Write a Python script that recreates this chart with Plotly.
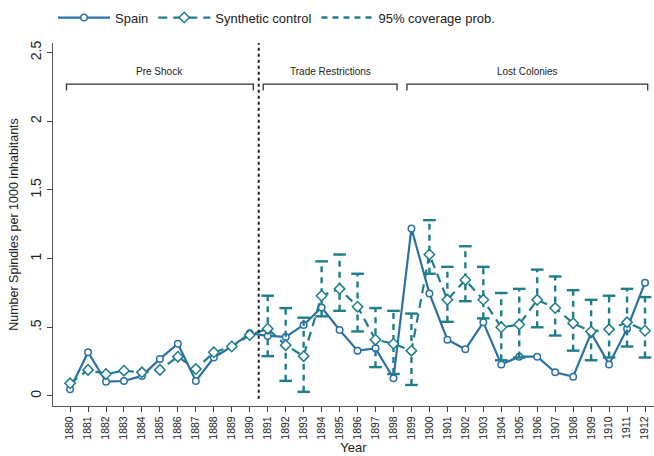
import plotly.graph_objects as go

years = list(range(1880, 1913))
spain = [0.049, 0.318, 0.104, 0.109, 0.146, 0.27, 0.38, 0.109, 0.28, 0.36, 0.456,
         0.437, 0.43, 0.517, 0.645, 0.48, 0.33, 0.347, 0.129, 1.22,
         0.747, 0.41, 0.34, 0.536, 0.23, 0.286, 0.286, 0.172, 0.14, 0.46, 0.23, 0.49, 0.825]
synth = [0.092, 0.19, 0.16, 0.184, 0.172, 0.19, 0.286, 0.196, 0.318, 0.36, 0.444,
         0.49, 0.37, 0.29, 0.73, 0.78, 0.65, 0.41, 0.38, 0.33,
         1.03, 0.70, 0.845, 0.70, 0.50, 0.52, 0.70, 0.64, 0.53, 0.47, 0.485, 0.536, 0.475]
ci_years = list(range(1891, 1913))
ci_hi = [0.73, 0.64, 0.57, 0.98, 1.03, 0.89, 0.64, 0.62, 0.60,
         1.28, 0.94, 1.09, 0.94, 0.75, 0.78, 0.92, 0.87, 0.77, 0.70, 0.73, 0.78, 0.72]
ci_lo = [0.29, 0.11, 0.03, 0.58, 0.62, 0.47, 0.21, 0.16, 0.08,
         0.89, 0.54, 0.69, 0.565, 0.26, 0.28, 0.50, 0.44, 0.33, 0.26, 0.28, 0.36, 0.28]
periods = [("Pre Shock", 1879.8, 1890.2), ("Trade Restrictions", 1890.75, 1898.2),
           ("Lost Colonies", 1898.75, 1912.15)]
shock_year = 1890.5
y_ticks = [0, 0.5, 1, 1.5, 2, 2.5]
y_tick_text = ["0", ".5", "1", "1.5", "2", "2.5"]

C_SPAIN = "#2b70a7"
C_SYN = "#1f7d8b"
FONT = "Liberation Sans, Arial, sans-serif"

fig = go.Figure()

cx, cy = [], []
for x, lo, hi in zip(ci_years, ci_lo, ci_hi):
    cx += [x, x, None]
    cy += [lo, hi, None]

fig.add_trace(go.Scatter(x=years, y=spain, mode="lines+markers", name="Spain",
                         line=dict(color=C_SPAIN, width=2.2),
                         marker=dict(symbol="circle", size=6.5, color="white",
                                     line=dict(color=C_SPAIN, width=1.5)),
                         legendrank=1))
fig.add_trace(go.Scatter(x=cx, y=cy, mode="lines", name="95% coverage prob.",
                         line=dict(color=C_SYN, width=2.4, dash="6px,5px"),
                         legendrank=3))
fig.add_trace(go.Scatter(x=ci_years + ci_years, y=ci_hi + ci_lo, mode="markers",
                         showlegend=False, hoverinfo="skip",
                         marker=dict(symbol="line-ew", size=9,
                                     line=dict(color=C_SYN, width=2.4))))
fig.add_trace(go.Scatter(x=years, y=synth, mode="lines+markers", name="Synthetic control",
                         line=dict(color=C_SYN, width=2.2, dash="9px,6px"),
                         marker=dict(symbol="diamond", size=8, color="white",
                                     line=dict(color=C_SYN, width=1.5)),
                         legendrank=2))

shapes = [dict(type="line", x0=shock_year, x1=shock_year, xref="x", yref="paper",
               y0=0.02, y1=1, line=dict(color="#222", width=2, dash="dot"))]
annotations = []
for name, a, b in periods:
    shapes.append(dict(type="path", xref="x", yref="y",
                       path=f"M {a},2.225 L {a},2.27 L {b},2.27 L {b},2.225",
                       line=dict(color="#333", width=1.3)))
    annotations.append(dict(x=(a + b) / 2, y=2.36, xref="x", yref="y", text=name,
                            showarrow=False, font=dict(size=10, color="#222", family=FONT)))

fig.update_layout(
    width=654, height=456,
    margin=dict(l=53, r=0, t=43, b=50),
    paper_bgcolor="white", plot_bgcolor="white",
    font=dict(family=FONT, color="#222"),
    shapes=shapes, annotations=annotations,
    legend=dict(orientation="h", x=0.0, xanchor="left", y=1.07, yanchor="middle",
                font=dict(size=13, family=FONT), traceorder="normal",
                itemwidth=52, bgcolor="rgba(0,0,0,0)"),
    showlegend=True,
)
fig.update_xaxes(range=[1879.05, 1912.5], tickmode="array", tickvals=years,
                 ticktext=[str(y) for y in years], tickangle=-90,
                 tickfont=dict(size=10.5), ticks="outside", ticklen=5,
                 tickcolor="#444", showline=True, linecolor="#555", linewidth=1.2,
                 showgrid=False, zeroline=False,
                 title=dict(text="Year", font=dict(size=13), standoff=4))
fig.update_yaxes(range=[-0.073, 2.57], tickmode="array", tickvals=y_ticks,
                 ticktext=y_tick_text, tickangle=-90, tickfont=dict(size=14),
                 ticks="outside", ticklen=5, tickcolor="#444",
                 showline=True, linecolor="#555", linewidth=1.2,
                 showgrid=False, zeroline=False,
                 title=dict(text="Number Spindles per 1000 inhabitants",
                            font=dict(size=12.5), standoff=6))

fig.write_html("out.html")
